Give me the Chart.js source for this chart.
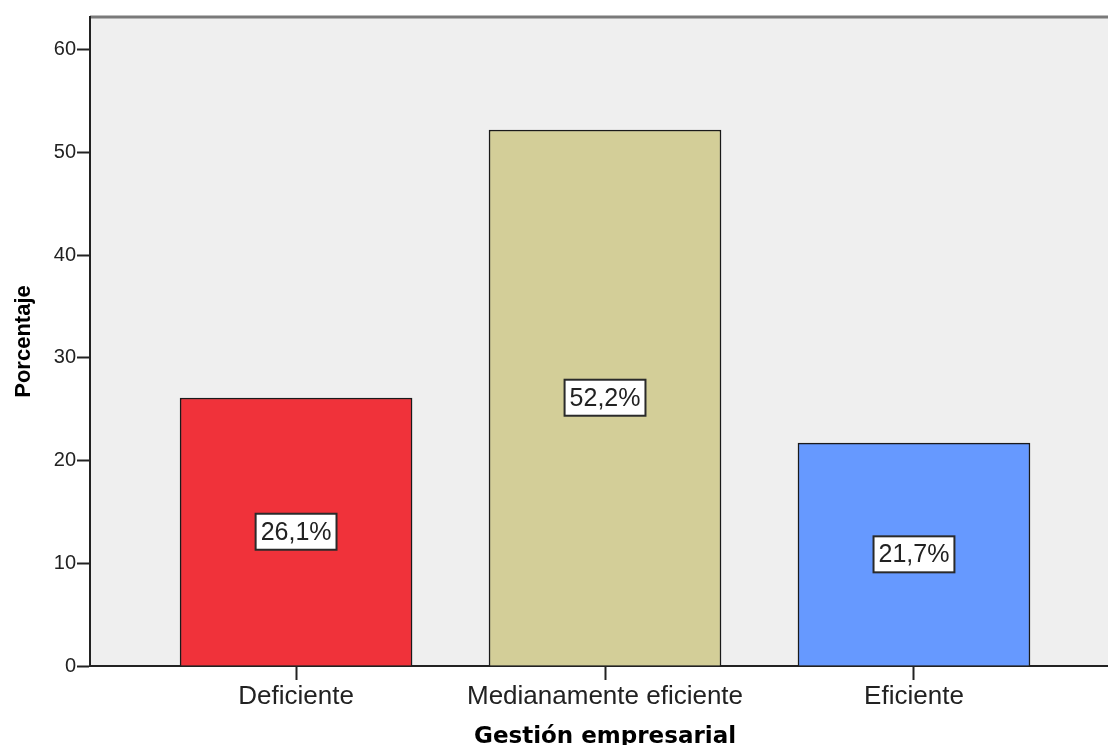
<!DOCTYPE html>
<html>
<head>
  <meta charset="utf-8">
  <title>Gestión empresarial</title>
  <script src="https://cdn.jsdelivr.net/npm/chart.js"></script>
  <style>
    body { margin: 0; background: #fff; }
    canvas { display: block; }
  </style>
</head>
<body>
  <canvas id="barChart" width="1108" height="745"></canvas>

  <script>
    // Chart data
    const categories = ["Deficiente", "Medianamente eficiente", "Eficiente"];
    const percentages = [26.1, 52.2, 21.7];
    const yTicks = [0, 10, 20, 30, 40, 50, 60];
    const xTitle = "Gestión empresarial";
    const yTitle = "Porcentaje";

    const barColors = ["#f0323a", "#d3ce98", "#6699ff"];

    // Plot background and the grey top line
    const plotBackground = {
      id: "plotBackground",
      beforeDraw(chart) {
        const { ctx, chartArea } = chart;
        ctx.save();
        ctx.fillStyle = "#efefef";
        ctx.fillRect(chartArea.left, chartArea.top, chartArea.right - chartArea.left, chartArea.bottom - chartArea.top);
        ctx.strokeStyle = "#7a7a7a";
        ctx.lineWidth = 3;
        ctx.beginPath();
        ctx.moveTo(chartArea.left, chartArea.top);
        ctx.lineTo(chartArea.right, chartArea.top);
        ctx.stroke();
        ctx.restore();
      }
    };

    // Boxed percentage labels in the middle of each bar
    const valueLabels = {
      id: "valueLabels",
      afterDatasetsDraw(chart) {
        const { ctx } = chart;
        const meta = chart.getDatasetMeta(0);
        ctx.save();
        ctx.font = "25px 'Liberation Sans', Arial, sans-serif";
        ctx.textAlign = "center";
        ctx.textBaseline = "middle";
        meta.data.forEach((bar, i) => {
          const text = percentages[i].toFixed(1).replace(".", ",") + "%";
          const cy = (bar.y + bar.base) / 2;
          const w = ctx.measureText(text).width + 10;
          const h = 36;
          ctx.fillStyle = "#fff";
          ctx.fillRect(bar.x - w / 2, cy - h / 2, w, h);
          ctx.strokeStyle = "#2a2a2a";
          ctx.lineWidth = 2;
          ctx.strokeRect(bar.x - w / 2, cy - h / 2, w, h);
          ctx.fillStyle = "#222";
          ctx.fillText(text, bar.x, cy + 1);
        });
        ctx.restore();
      }
    };

    // Axis titles
    const axisTitles = {
      id: "axisTitles",
      afterDraw(chart) {
        const { ctx, chartArea, scales } = chart;
        ctx.save();
        ctx.fillStyle = "#000";
        ctx.textAlign = "center";
        ctx.font = "bold 23px 'DejaVu Sans', Verdana, sans-serif";
        ctx.textBaseline = "alphabetic";
        ctx.fillText(xTitle, scales.x.getPixelForValue(1), 743);

        ctx.translate(30, (chartArea.top + chartArea.bottom) / 2);
        ctx.rotate(-Math.PI / 2);
        ctx.font = "bold 22px 'Liberation Sans', Arial, sans-serif";
        ctx.fillText(yTitle, 0, 0);
        ctx.restore();
      }
    };

    new Chart(document.getElementById("barChart"), {
      type: "bar",
      data: {
        datasets: [{
          data: percentages.map((v, i) => ({ x: i, y: v })),
          backgroundColor: barColors,
          borderColor: "#1a1a1a",
          borderWidth: 1.5,
          barThickness: 232
        }]
      },
      options: {
        responsive: false,
        animation: false,
        layout: { padding: { top: 17, right: 0, left: 0, bottom: 0 } },
        plugins: {
          legend: { display: false },
          tooltip: { enabled: false }
        },
        scales: {
          x: {
            type: "linear",
            min: -0.667,
            max: 2.628,
            offset: false,
            afterBuildTicks: scale => { scale.ticks = categories.map((c, i) => ({ value: i })); },
            afterFit: scale => { scale.height = 79; },
            ticks: {
              callback: v => categories[v],
              color: "#222",
              padding: 1,
              maxRotation: 0,
              autoSkip: false,
              font: { family: "'Liberation Sans', Arial, sans-serif", size: 26 }
            },
            grid: { drawOnChartArea: false, offset: false, tickLength: 14, color: "#222", tickWidth: 2 },
            border: { color: "#222", width: 2 }
          },
          y: {
            min: 0,
            max: 63.2,
            afterBuildTicks: scale => { scale.ticks = yTicks.map(v => ({ value: v })); },
            afterFit: scale => { scale.width = 90; },
            ticks: {
              color: "#222",
              padding: 1,
              font: { family: "'Liberation Sans', Arial, sans-serif", size: 20 }
            },
            grid: { drawOnChartArea: false, tickLength: 13, color: "#222", tickWidth: 2 },
            border: { color: "#222", width: 2 }
          }
        }
      },
      plugins: [plotBackground, valueLabels, axisTitles]
    });
  </script>
</body>
</html>
